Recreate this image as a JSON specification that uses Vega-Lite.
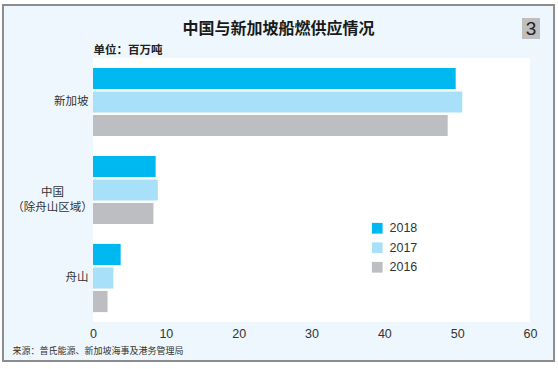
{
  "$schema": "https://vega.github.io/schema/vega-lite/v6.json",
  "width": 437,
  "height": 264,
  "autosize": {"type": "none"},
  "padding": {"left": 93, "top": 58, "right": 28, "bottom": 47},
  "background": "#ffffff",
  "title": {
    "text": "中国与新加坡船燃供应情况",
    "anchor": "middle",
    "frame": "group",
    "dx": -33,
    "offset": -41,
    "baseline": "middle",
    "fontSize": 16,
    "fontWeight": "bold",
    "font": "Noto Sans CJK SC",
    "color": "#1a1a1a"
  },
  "config": {
    "view": {"stroke": null, "fill": null},
    "font": "Liberation Sans"
  },
  "data": {
    "values": [
      {"region": "新加坡", "year": "2018", "value": 49.8},
      {"region": "新加坡", "year": "2017", "value": 50.7},
      {"region": "新加坡", "year": "2016", "value": 48.7},
      {"region": "中国（除舟山区域）", "year": "2018", "value": 8.6},
      {"region": "中国（除舟山区域）", "year": "2017", "value": 8.9},
      {"region": "中国（除舟山区域）", "year": "2016", "value": 8.3},
      {"region": "舟山", "year": "2018", "value": 3.8},
      {"region": "舟山", "year": "2017", "value": 2.8},
      {"region": "舟山", "year": "2016", "value": 2.0}
    ]
  },
  "resolve": {"scale": {"y": "independent"}, "axis": {"y": "independent"}},
  "layer": [
    {
      "data": {"values": [{}]},
      "mark": {"type": "rect", "fill": "#EEF7FD", "stroke": "#8c8c8c", "strokeWidth": 2},
      "encoding": {
        "x": {"datum": -12.36, "type": "quantitative", "scale": {"domain": [0, 60]}},
        "x2": {"datum": 63.3},
        "y": {"datum": -53, "type": "quantitative", "scale": {"domain": [0, 264], "reverse": true}, "axis": null},
        "y2": {"datum": 303}
      }
    },
    {
      "data": {"values": [{}]},
      "mark": {"type": "rect", "fill": "#ffffff"},
      "encoding": {
        "x": {"datum": 0, "type": "quantitative", "scale": {"domain": [0, 60]}},
        "x2": {"datum": 60},
        "y": {"datum": 0, "type": "quantitative", "scale": {"domain": [0, 264], "reverse": true}, "axis": null},
        "y2": {"datum": 264}
      }
    },
    {
      "data": {"values": [{}]},
      "mark": {"type": "rect", "fill": "#bfbfbf"},
      "encoding": {
        "x": {"datum": 58.9, "type": "quantitative", "scale": {"domain": [0, 60]}},
        "x2": {"datum": 61.37},
        "y": {"datum": -40, "type": "quantitative", "scale": {"domain": [0, 264], "reverse": true}, "axis": null},
        "y2": {"datum": -19}
      }
    },
    {
      "data": {"values": [{}]},
      "mark": {"type": "text", "fontSize": 19, "font": "Liberation Sans", "color": "#222222", "align": "center", "baseline": "middle"},
      "encoding": {
        "text": {"value": "3"},
        "x": {"datum": 60.14, "type": "quantitative", "scale": {"domain": [0, 60]}},
        "y": {"datum": -29, "type": "quantitative", "scale": {"domain": [0, 264], "reverse": true}, "axis": null}
      }
    },
    {
      "mark": {"type": "bar"},
      "encoding": {
        "x": {
          "field": "value",
          "type": "quantitative",
          "scale": {"domain": [0, 60]},
          "axis": {
            "zindex": 2,
            "values": [0, 10, 20, 30, 40, 50, 60],
            "grid": false,
            "domain": false,
            "ticks": false,
            "labelFlush": false,
            "labelOverlap": false,
            "labelFontSize": 12.5,
            "labelFont": "Liberation Sans",
            "labelColor": "#333333",
            "labelPadding": 5,
            "title": "来源：普氏能源、新加坡海事及港务管理局",
            "titleX": -81,
            "titleY": 28,
            "titleAlign": "left",
            "titleAnchor": null,
            "titleBaseline": "middle",
            "titleFontSize": 9,
            "titleFontWeight": "normal",
            "titleFont": "Noto Sans CJK SC",
            "titleColor": "#333333"
          }
        },
        "y": {
          "field": "region",
          "type": "nominal",
          "sort": ["新加坡", "中国（除舟山区域）", "舟山"],
          "scale": {"paddingInner": 0, "paddingOuter": 0},
          "axis": {
            "zindex": 2,
            "orient": "left",
            "title": "单位：百万吨",
            "titleAngle": 0,
            "titleAlign": "left",
            "titleBaseline": "alphabetic",
            "titleX": 0,
            "titleY": -5,
            "titleFontSize": 11.5,
            "titleFontWeight": "bold",
            "titleFont": "Noto Sans CJK SC",
            "titleColor": "#222222",
            "labelFont": "Noto Sans CJK SC",
            "labelFontSize": 11.5,
            "labelColor": "#333333",
            "labelAlign": {"condition": {"test": "datum.value == '中国（除舟山区域）'", "value": "center"}, "value": "right"},
            "labelPadding": {"condition": {"test": "datum.value == '中国（除舟山区域）'", "value": 41}, "value": 5},
            "labelOffset": {"condition": {"test": "datum.value == '中国（除舟山区域）'", "value": 3}, "value": 0},
            "labelLineHeight": 15,
            "domain": false,
            "ticks": false,
            "labelExpr": "datum.value == '中国（除舟山区域）' ? ['中国', '（除舟山区域）'] : datum.label"
          }
        },
        "yOffset": {
          "field": "year",
          "type": "nominal",
          "scale": {"domain": ["2018", "2017", "2016"], "paddingInner": 0.1, "paddingOuter": 0.42}
        },
        "color": {
          "field": "year",
          "type": "nominal",
          "scale": {"domain": ["2018", "2017", "2016"], "range": ["#00B8F0", "#A8E0FA", "#BCBEC1"]},
          "legend": {
            "title": null,
            "orient": "none",
            "legendX": 278,
            "legendY": 164,
            "padding": 0,
            "symbolType": "square",
            "symbolSize": 115,
            "symbolStrokeWidth": 0,
            "labelFontSize": 12.5,
            "labelFont": "Liberation Sans",
            "labelColor": "#333333",
            "labelOffset": 6,
            "rowPadding": 6.5
          }
        }
      }
    }
  ]
}
